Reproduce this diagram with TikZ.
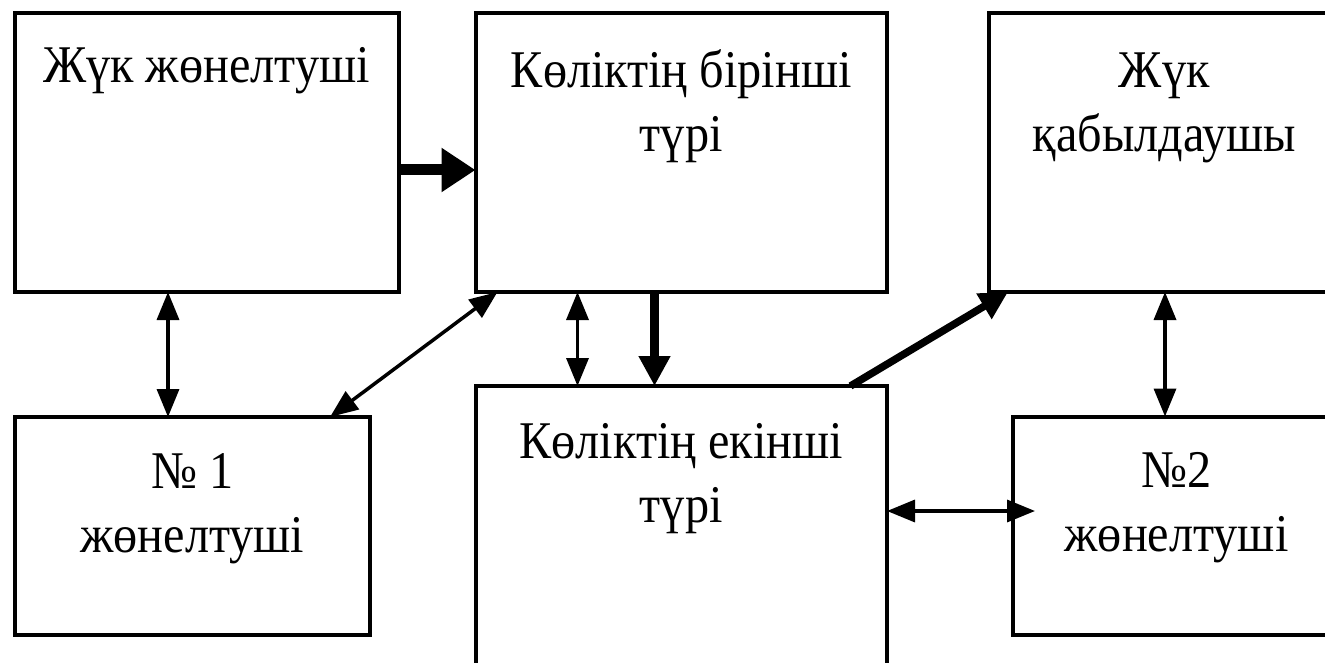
\documentclass[tikz,border=0pt]{standalone}
\usepackage{fontspec}
\setmainfont{Liberation Serif}[FakeStretch=0.91]
\usetikzlibrary{arrows.meta,calc}
\newcommand\bxtext[4]{\parbox[c][#2][t]{#1}{\centering\fontsize{53}{64}\selectfont\rule{0pt}{#3}#4\par}}
\tikzset{
  blk/.style={draw=black,line width=4pt,inner sep=0pt,outer sep=0pt,fill=white},
  thinarrow/.style={line width=3.5pt,{Triangle[length=28pt,width=22pt]}-{Triangle[length=28pt,width=22pt]}},
  thickAB/.style={line width=11pt,-{Triangle[length=34pt,width=42pt]}},
  thickBE/.style={line width=9pt,-{Triangle[length=30pt,width=30pt]}},
  thickEC/.style={line width=7.5pt,-{Triangle[length=28pt,width=28pt]}},
}
\begin{document}
\begin{tikzpicture}[x=1pt,y=-1pt]
\useasboundingbox (0,0) rectangle (1325,663);
\fill[white] (0,0) rectangle (1325,663);
\clip (0,0) rectangle (1325,663);
\node[blk] (A) at (206.5,152.5) {\bxtext{384pt}{279pt}{70pt}{Жүк жөнелтуші}};
\node[blk] (B) at (681.25,152.5) {\bxtext{411.5pt}{279pt}{75pt}{Көліктің бірінші\\түрі}};
\node[blk] (C) at (1164.25,152.5) {\bxtext{351.5pt}{279pt}{75pt}{Жүк\\қабылдаушы}};
\node[blk] (D) at (192.25,526) {\bxtext{355.5pt}{218pt}{71pt}{№ 1\\жөнелтуші}};
\node[blk] (E) at (681.25,543) {\bxtext{411.5pt}{314pt}{72pt}{Көліктің екінші\\түрі}};
\node[blk] (F) at (1176.5,525.75) {\bxtext{327pt}{218.5pt}{71pt}{№2\\жөнелтуші}};
% connectors
\draw[thickAB] ($(A.north east)+(0,157)$) -- ($(B.north west)+(0,157)$);
\draw[thinarrow] ($(A.south west)+(153.5,0)$) -- ($(D.north west)+(153.5,0)$);
\draw[thinarrow] ($(D.north west)+(315.5,0)$) -- ($(B.south west)+(22,0)$);
\draw[thinarrow] ($(B.south west)+(102,0)$) -- ($(E.north west)+(102,0)$);
\draw[thickBE] ($(B.south west)+(179,0)$) -- ($(E.north west)+(179,0)$);
\draw[thickEC] ($(E.north west)+(375,0)$) -- ($(C.south west)+(19.5,0)$);
\draw[thinarrow] ($(C.south west)+(176.5,0)$) -- ($(F.north west)+(152,0)$);
\draw[thinarrow] ($(E.north east)+(0,125)$) -- ($(F.north west)+(22,94.5)$);
\end{tikzpicture}
\end{document}
